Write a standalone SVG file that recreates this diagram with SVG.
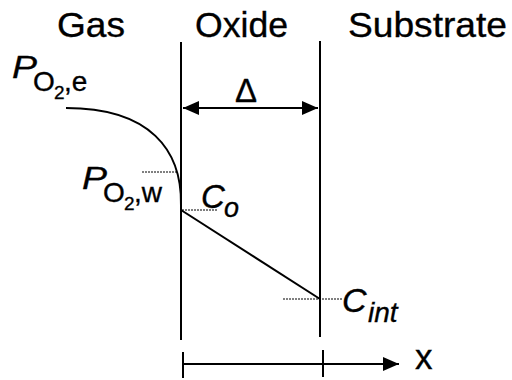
<svg xmlns="http://www.w3.org/2000/svg" width="512" height="380" viewBox="0 0 512 380">
<style>
.t{font-family:"Liberation Sans",Arial,sans-serif;fill:#000;stroke:#000;stroke-width:0.35}
.i{font-style:italic}
.ln{stroke:#000;stroke-width:2;fill:none}
.dt{stroke:#000;stroke-width:1;stroke-dasharray:2,1;fill:none}
</style>
<defs>
<marker id="ah" viewBox="0 0 16 14" refX="16" refY="7" markerWidth="16" markerHeight="14" markerUnits="userSpaceOnUse" orient="auto-start-reverse">
<path d="M0,0 L16,7 L0,14 Z" fill="#000"/>
</marker>
</defs>
<rect width="512" height="380" fill="#fff"/>
<g id="titles">
<text class="t" x="57" y="37" font-size="35" textLength="68" lengthAdjust="spacingAndGlyphs">Gas</text>
<text class="t" x="195" y="37" font-size="35" textLength="93" lengthAdjust="spacingAndGlyphs">Oxide</text>
<text class="t" x="348" y="37" font-size="35" textLength="159" lengthAdjust="spacingAndGlyphs">Substrate</text>
</g>
<g id="boundaries">
<line class="ln" x1="181" y1="42" x2="181" y2="340"/>
<line class="ln" x1="320" y1="41" x2="320" y2="337"/>
</g>
<g id="connectors">
<line class="ln" x1="183" y1="108" x2="318" y2="108" marker-start="url(#ah)" marker-end="url(#ah)"/>
<path class="ln" d="M66,108 C150,108 182,150 181,205"/>
<line class="ln" x1="181" y1="210" x2="320" y2="299"/>
<line class="dt" x1="142" y1="172" x2="178" y2="172"/>
<line class="dt" x1="182" y1="210" x2="217" y2="210"/>
<line class="dt" x1="283" y1="299" x2="342" y2="299"/>
<line class="ln" x1="183" y1="364" x2="399" y2="364" marker-end="url(#ah)"/>
<line class="ln" x1="183" y1="352" x2="183" y2="378"/>
<line class="ln" x1="323" y1="350" x2="323" y2="377"/>
</g>
<g id="delta">
<text class="t" x="246" y="102" font-size="33" text-anchor="middle">Δ</text>
</g>
<g id="label-pe">
<text class="t i" x="12" y="78" font-size="32" textLength="25" lengthAdjust="spacingAndGlyphs">P</text>
<text class="t" x="33" y="91" font-size="28">O</text>
<text class="t" x="54" y="99" font-size="19">2</text>
<text class="t" x="64" y="91" font-size="28">,e</text>
</g>
<g id="label-pw">
<text class="t i" x="82" y="189" font-size="32" textLength="25" lengthAdjust="spacingAndGlyphs">P</text>
<text class="t" x="103" y="202" font-size="28">O</text>
<text class="t" x="124" y="210" font-size="19">2</text>
<text class="t" x="134" y="202" font-size="28">,w</text>
</g>
<g id="label-co">
<text class="t i" x="201" y="208" font-size="33">C</text>
<text class="t i" x="224" y="217" font-size="27">o</text>
</g>
<g id="label-cint">
<text class="t i" x="342" y="312" font-size="34">C</text>
<text class="t i" x="368" y="322" font-size="28">int</text>
</g>
<g id="label-x">
<text class="t" x="415" y="369" font-size="35">x</text>
</g>
</svg>
